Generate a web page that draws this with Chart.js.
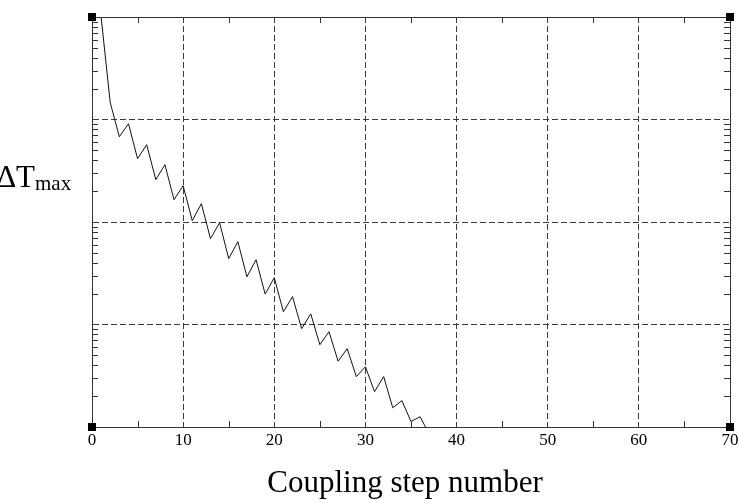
<!DOCTYPE html>
<html>
<head>
<meta charset="utf-8">
<script src="https://cdn.jsdelivr.net/npm/chart.js@4.4.1/dist/chart.umd.min.js"></script>
<style>
  html, body { margin: 0; padding: 0; background: #fff; }
  #wrap { width: 739px; height: 503px; }
</style>
</head>
<body>
<div id="wrap"><canvas id="chart" width="739" height="503"></canvas></div>
<script>
// Coupling step number (x)
const steps = [0, 1, 2, 3, 4, 5, 6, 7, 8, 9, 10, 11, 12, 13, 14, 15, 16, 17, 18, 19,
    20, 21, 22, 23, 24, 25, 26, 27, 28, 29, 30, 31, 32, 33, 34, 35, 36, 37];

// Max temperature difference
const deltaTmax = [6, 1.0, 0.146, 0.0679, 0.091, 0.0415, 0.0568, 0.0259, 0.0362, 0.0165,
    0.0226, 0.0103, 0.0151, 0.00687, 0.00984, 0.00439, 0.00643, 0.00292, 0.00429, 0.00198,
    0.00286, 0.00133, 0.00187, 0.00091, 0.00127, 0.000635, 0.000851, 0.000439, 0.000581, 0.00031,
    0.000387, 0.000221, 0.00031, 0.000154, 0.000181, 0.000113, 0.000126, 0.000085];

const xTicks = [0, 10, 20, 30, 40, 50, 60, 70];
const xMinorTicks = [5, 15, 25, 35, 45, 55, 65];
const yDecades = [1e-4, 1e-3, 1e-2, 1e-1, 1];

const SERIF = '"Liberation Serif", "DejaVu Serif", serif';

// box, minor ticks, corner squares and axis titles
const framePlugin = {
    id: 'frame',
    afterDraw(chart) {
        const { ctx, chartArea: a, scales: { x, y } } = chart;
        ctx.save();

        ctx.strokeStyle = '#333';
        ctx.lineWidth = 1;
        ctx.strokeRect(a.left + 0.5, a.top + 0.5, a.right - a.left, a.bottom - a.top);

        // minor x ticks, bottom and top
        ctx.beginPath();
        xMinorTicks.forEach(v => {
            const px = Math.round(x.getPixelForValue(v)) + 0.5;
            ctx.moveTo(px, a.bottom);
            ctx.lineTo(px, a.bottom - 6);
            ctx.moveTo(px, a.top);
            ctx.lineTo(px, a.top + 6);
        });
        // minor y ticks (2..9 per decade), left and right
        for (let d = 0; d < yDecades.length - 1; d++) {
            for (let m = 2; m <= 9; m++) {
                const py = Math.round(y.getPixelForValue(yDecades[d] * m)) + 0.5;
                ctx.moveTo(a.left, py);
                ctx.lineTo(a.left + 6, py);
                ctx.moveTo(a.right, py);
                ctx.lineTo(a.right - 6, py);
            }
        }
        ctx.stroke();

        // corner squares
        ctx.fillStyle = '#000';
        [[a.left, a.top], [a.right, a.top], [a.left, a.bottom], [a.right, a.bottom]].forEach(([cx, cy]) => {
            ctx.fillRect(cx - 4, cy - 4, 8, 8);
        });

        // axis titles
        ctx.fillStyle = '#000';
        ctx.textBaseline = 'alphabetic';
        ctx.font = '31px ' + SERIF;
        ctx.textAlign = 'center';
        ctx.fillText('Coupling step number', 405, 492);

        ctx.textAlign = 'right';
        ctx.fillText('\u0394T', 35, 187);
        ctx.textAlign = 'left';
        ctx.font = '21px ' + SERIF;
        ctx.fillText('max', 35, 190);

        ctx.restore();
    }
};

new Chart(document.getElementById('chart'), {
    type: 'line',
    data: {
        labels: steps,
        datasets: [{
            data: steps.map((s, i) => ({ x: s, y: deltaTmax[i] })),
            borderColor: '#111',
            borderWidth: 1,
            pointRadius: 0,
            tension: 0,
            fill: false
        }]
    },
    options: {
        responsive: false,
        animation: false,
        events: [],
        layout: { padding: { top: 17, right: 9, bottom: 0, left: 0 } },
        plugins: {
            legend: { display: false },
            tooltip: { enabled: false }
        },
        scales: {
            x: {
                type: 'linear',
                min: 0,
                max: 70,
                afterBuildTicks: scale => { scale.ticks = xTicks.map(v => ({ value: v })); },
                afterFit: scale => {
                    scale.height = 76;
                    scale.paddingLeft = 0;
                    scale.paddingRight = 0;
                },
                ticks: {
                    color: '#000',
                    font: { family: SERIF, size: 17 },
                    padding: 3,
                    maxRotation: 0
                },
                grid: { color: '#3a3a3a', lineWidth: 1, drawTicks: false },
                border: { display: true, color: '#333', dash: [6, 3] }
            },
            y: {
                type: 'logarithmic',
                min: 1e-4,
                max: 1,
                afterBuildTicks: scale => { scale.ticks = yDecades.map(v => ({ value: v, major: true })); },
                afterFit: scale => { scale.width = 92; },
                ticks: { display: false },
                grid: { color: '#3a3a3a', lineWidth: 1, drawTicks: false },
                border: { display: true, color: '#333', dash: [6, 3] }
            }
        }
    },
    plugins: [framePlugin]
});
</script>
</body>
</html>
